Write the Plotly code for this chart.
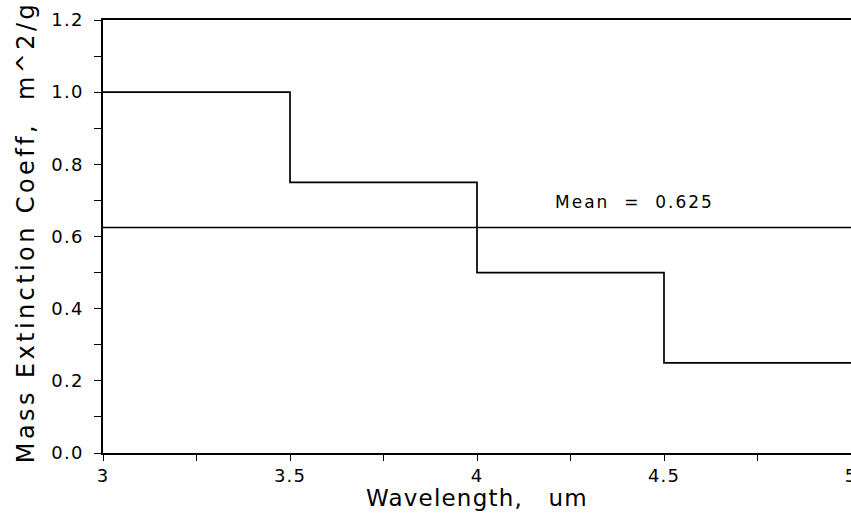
import plotly.graph_objects as go

# Band edges (um) and the mass extinction coefficient in each band (m^2/g)
band_edges = [3.0, 3.5, 4.0, 4.5, 5.0]
band_values = [1.0, 0.75, 0.5, 0.25]
mean_value = sum(band_values) / len(band_values)

y_ticks = [0.0, 0.2, 0.4, 0.6, 0.8, 1.0, 1.2]
x_ticks = [3, 3.5, 4, 4.5, 5]
x_tick_text = ["3", "3.5", "4", "4.5", "5"]

FONT = "DejaVu Sans"


def spaced(text, px):
    """Wrap text in a span with extra letter spacing (wide lettering)."""
    return f'<span style="letter-spacing:{px}px">{text}</span>'


fig = go.Figure()

# Stepped coefficient curve: each value holds across its band
fig.add_trace(go.Scatter(
    x=band_edges,
    y=band_values + [band_values[-1]],
    mode="lines",
    line=dict(shape="hv", color="black", width=1.7),
    showlegend=False,
    hoverinfo="skip",
))

# Band-averaged mean as a horizontal line over the full range
fig.add_trace(go.Scatter(
    x=[band_edges[0], band_edges[-1]],
    y=[mean_value, mean_value],
    mode="lines",
    line=dict(color="black", width=1.7),
    showlegend=False,
    hoverinfo="skip",
))

fig.add_annotation(
    x=4.42, y=mean_value + 0.07,
    text=spaced(f"Mean\u00a0\u00a0=\u00a0\u00a0{mean_value:.3f}", 2.0),
    showarrow=False,
    font=dict(family=FONT, size=17, color="black"),
)

# Axis titles placed as paper-anchored annotations
fig.add_annotation(
    xref="paper", yref="paper", x=0.5, y=-0.104,
    text=spaced("Wavelength,\u00a0\u00a0\u00a0um", 1.2),
    showarrow=False, xanchor="center", yanchor="middle",
    font=dict(family=FONT, size=23, color="black"),
)
fig.add_annotation(
    xref="paper", yref="paper", x=-0.103, y=0.51,
    text=spaced("Mass Extinction Coeff,\u00a0\u00a0m^2/g", 3.4),
    textangle=-90,
    showarrow=False, xanchor="center", yanchor="middle",
    font=dict(family=FONT, size=24, color="black"),
)

fig.update_layout(
    width=851, height=519,
    margin=dict(l=103, r=0, t=20, b=66),
    paper_bgcolor="white",
    plot_bgcolor="white",
    font=dict(family=FONT, color="black"),
)

fig.update_xaxes(
    range=[3.0, 5.0],
    automargin=False,
    tickvals=x_ticks,
    ticktext=[spaced(t, 1.2) for t in x_tick_text],
    ticklabeloverflow="allow",
    ticks="outside", ticklen=6, tickwidth=1.2, tickcolor="black",
    minor=dict(tickvals=[3.25, 3.75, 4.25, 4.75], ticks="outside",
               ticklen=6, tickwidth=1.2, tickcolor="black"),
    showline=True, linecolor="black", linewidth=1.7, mirror=True,
    showgrid=False, zeroline=False,
    tickfont=dict(family=FONT, size=18),
)

fig.update_yaxes(
    range=[0, 1.2],
    automargin=False,
    tickvals=y_ticks,
    ticktext=[spaced(f"{v:.1f}", 1.2) for v in y_ticks],
    ticks="outside", ticklen=7, tickwidth=1.2, tickcolor="black",
    minor=dict(tickvals=[0.1, 0.3, 0.5, 0.7, 0.9, 1.1], ticks="outside",
               ticklen=7, tickwidth=1.2, tickcolor="black"),
    showline=True, linecolor="black", linewidth=1.7, mirror=False,
    showgrid=False, zeroline=False,
    tickfont=dict(family=FONT, size=18),
    ticklabelstandoff=7,
)

fig.write_html("out.html")
